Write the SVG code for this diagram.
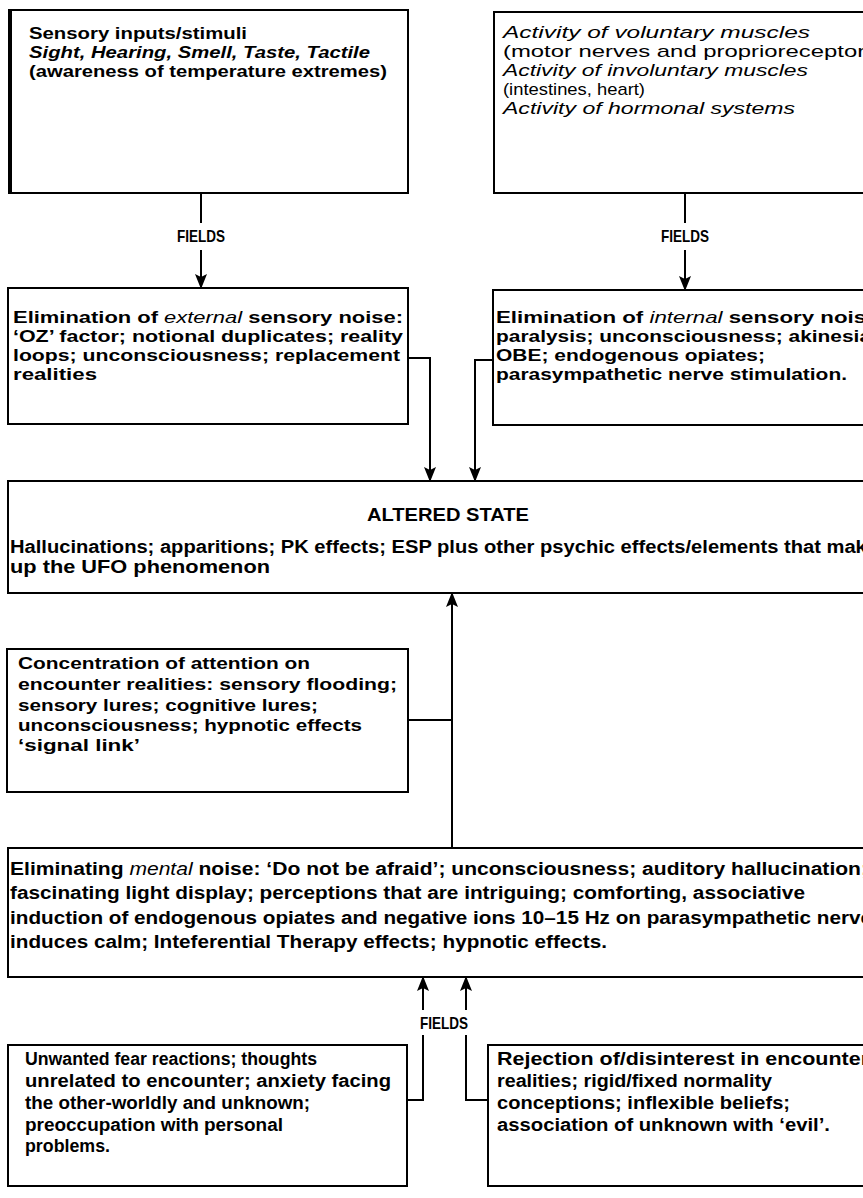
<svg xmlns="http://www.w3.org/2000/svg" width="863" height="1198" viewBox="0 0 863 1198">
<style>
.box{fill:#fff;stroke:#000;stroke-width:2}
.t{font-family:"Liberation Sans",Arial,sans-serif;font-size:17px;fill:#000}
.m{font-size:18px}
.b{font-weight:bold}
.i{font-style:italic}
.c{fill:none;stroke:#000;stroke-width:2}
.f{font-family:"Liberation Sans",Arial,sans-serif;font-size:17px;font-weight:bold;fill:#000}
</style>
<defs>
<marker id="ah" viewBox="0 0 15 12" refX="14" refY="6" markerWidth="16" markerHeight="12" markerUnits="userSpaceOnUse" orient="auto">
<path d="M0,0 L15,6 L0,12 L3,6 z" fill="#000"/>
</marker>
</defs>
<rect width="863" height="1198" fill="#fff"/>

<g id="connectors">
<line class="c" x1="201" y1="193" x2="201" y2="223"/>
<line class="c" x1="201" y1="250" x2="201" y2="288" marker-end="url(#ah)"/>
<text class="f" x="201" y="242" text-anchor="middle" textLength="48" lengthAdjust="spacingAndGlyphs">FIELDS</text>
<line class="c" x1="685" y1="193" x2="685" y2="223"/>
<line class="c" x1="685" y1="250" x2="685" y2="290" marker-end="url(#ah)"/>
<text class="f" x="685" y="242" text-anchor="middle" textLength="48" lengthAdjust="spacingAndGlyphs">FIELDS</text>
<polyline class="c" points="409,358 430,358 430,481" marker-end="url(#ah)"/>
<polyline class="c" points="493,360 475,360 475,481" marker-end="url(#ah)"/>
<line class="c" x1="408" y1="720" x2="452" y2="720"/>
<line class="c" x1="452" y1="848" x2="452" y2="593" marker-end="url(#ah)"/>
<polyline class="c" points="407,1100 423,1100 423,1035"/>
<polyline class="c" points="488,1100 466,1100 466,1035"/>
<line class="c" x1="423" y1="1010" x2="423" y2="977" marker-end="url(#ah)"/>
<line class="c" x1="466" y1="1010" x2="466" y2="977" marker-end="url(#ah)"/>
<text class="f" x="444" y="1029" text-anchor="middle" textLength="48" lengthAdjust="spacingAndGlyphs">FIELDS</text>
</g>

<g id="sensory-inputs">
<rect class="box" x="10" y="10" width="398" height="183" stroke-width="2.5"/>
<line x1="10" y1="9" x2="10" y2="194" stroke="#000" stroke-width="4"/>
<text class="t b" x="29" y="39" textLength="218" lengthAdjust="spacingAndGlyphs">Sensory inputs/stimuli</text>
<text class="t b i" x="29" y="58" textLength="341" lengthAdjust="spacingAndGlyphs">Sight, Hearing, Smell, Taste, Tactile</text>
<text class="t b" x="29" y="77" textLength="358" lengthAdjust="spacingAndGlyphs">(awareness of temperature extremes)</text>
</g>

<g id="muscle-activity">
<rect class="box" x="494" y="12" width="380" height="181"/>
<text class="t i" x="503" y="38" textLength="307" lengthAdjust="spacingAndGlyphs">Activity of voluntary muscles</text>
<text class="t" x="503" y="57" textLength="382" lengthAdjust="spacingAndGlyphs">(motor nerves and proprioreceptors)</text>
<text class="t i" x="503" y="76" textLength="305" lengthAdjust="spacingAndGlyphs">Activity of involuntary muscles</text>
<text class="t" x="503" y="95" textLength="142" lengthAdjust="spacingAndGlyphs">(intestines, heart)</text>
<text class="t i" x="503" y="114" textLength="292" lengthAdjust="spacingAndGlyphs">Activity of hormonal systems</text>
</g>

<g id="external-noise">
<rect class="box" x="8" y="288" width="400" height="136"/>
<text class="t b" x="13" y="323" textLength="390" lengthAdjust="spacingAndGlyphs">Elimination of <tspan font-style="italic" font-weight="normal">external</tspan> sensory noise:</text>
<text class="t b" x="13" y="342" textLength="390" lengthAdjust="spacingAndGlyphs">‘OZ’ factor; notional duplicates; reality</text>
<text class="t b" x="13" y="361" textLength="387" lengthAdjust="spacingAndGlyphs">loops; unconsciousness; replacement</text>
<text class="t b" x="13" y="380" textLength="84" lengthAdjust="spacingAndGlyphs">realities</text>
</g>

<g id="internal-noise">
<rect class="box" x="493" y="290" width="380" height="135"/>
<text class="t b" x="496" y="323" textLength="390" lengthAdjust="spacingAndGlyphs">Elimination of <tspan font-style="italic" font-weight="normal">internal</tspan> sensory noise:</text>
<text class="t b" x="496" y="342" textLength="382" lengthAdjust="spacingAndGlyphs">paralysis; unconsciousness; akinesia;</text>
<text class="t b" x="496" y="361" textLength="269" lengthAdjust="spacingAndGlyphs">OBE; endogenous opiates;</text>
<text class="t b" x="496" y="380" textLength="351" lengthAdjust="spacingAndGlyphs">parasympathetic nerve stimulation.</text>
</g>

<g id="altered-state">
<rect class="box" x="8" y="481" width="870" height="112"/>
<text class="t m b" x="448" y="521" text-anchor="middle" textLength="162" lengthAdjust="spacingAndGlyphs">ALTERED STATE</text>
<text class="t m b" x="10" y="553" textLength="868" lengthAdjust="spacingAndGlyphs">Hallucinations; apparitions; PK effects; ESP plus other psychic effects/elements that make</text>
<text class="t m b" x="10" y="573" textLength="260" lengthAdjust="spacingAndGlyphs">up the UFO phenomenon</text>
</g>

<g id="concentration">
<rect class="box" x="7" y="649" width="401" height="143"/>
<text class="t b" x="18" y="669" textLength="292" lengthAdjust="spacingAndGlyphs">Concentration of attention on</text>
<text class="t b" x="18" y="690" textLength="379" lengthAdjust="spacingAndGlyphs">encounter realities: sensory flooding;</text>
<text class="t b" x="18" y="711" textLength="300" lengthAdjust="spacingAndGlyphs">sensory lures; cognitive lures;</text>
<text class="t b" x="18" y="731" textLength="344" lengthAdjust="spacingAndGlyphs">unconsciousness; hypnotic effects</text>
<text class="t b" x="18" y="751" textLength="122" lengthAdjust="spacingAndGlyphs">‘signal link’</text>
</g>

<g id="mental-noise">
<rect class="box" x="8" y="848" width="870" height="129"/>
<text class="t m b" x="10" y="875" textLength="858" lengthAdjust="spacingAndGlyphs">Eliminating <tspan font-style="italic" font-weight="normal">mental</tspan> noise: ‘Do not be afraid’; unconsciousness; auditory hallucination;</text>
<text class="t m b" x="10" y="899" textLength="795" lengthAdjust="spacingAndGlyphs">fascinating light display; perceptions that are intriguing; comforting, associative</text>
<text class="t m b" x="10" y="924" textLength="862" lengthAdjust="spacingAndGlyphs">induction of endogenous opiates and negative ions 10–15 Hz on parasympathetic nerve</text>
<text class="t m b" x="10" y="948" textLength="597" lengthAdjust="spacingAndGlyphs">induces calm; Inteferential Therapy effects; hypnotic effects.</text>
</g>

<g id="fear-reactions">
<rect class="box" x="8" y="1045" width="399" height="141"/>
<text class="t m b" x="25" y="1065" textLength="292" lengthAdjust="spacingAndGlyphs">Unwanted fear reactions; thoughts</text>
<text class="t m b" x="25" y="1087" textLength="366" lengthAdjust="spacingAndGlyphs">unrelated to encounter; anxiety facing</text>
<text class="t m b" x="25" y="1109" textLength="285" lengthAdjust="spacingAndGlyphs">the other-worldly and unknown;</text>
<text class="t m b" x="25" y="1131" textLength="258" lengthAdjust="spacingAndGlyphs">preoccupation with personal</text>
<text class="t m b" x="25" y="1152" textLength="85" lengthAdjust="spacingAndGlyphs">problems.</text>
</g>

<g id="rejection">
<rect class="box" x="488" y="1045" width="390" height="141"/>
<text class="t m b" x="497" y="1065" textLength="372" lengthAdjust="spacingAndGlyphs">Rejection of/disinterest in encounter</text>
<text class="t m b" x="497" y="1087" textLength="275" lengthAdjust="spacingAndGlyphs">realities; rigid/fixed normality</text>
<text class="t m b" x="497" y="1109" textLength="293" lengthAdjust="spacingAndGlyphs">conceptions; inflexible beliefs;</text>
<text class="t m b" x="497" y="1131" textLength="333" lengthAdjust="spacingAndGlyphs">association of unknown with ‘evil’.</text>
</g>
</svg>
